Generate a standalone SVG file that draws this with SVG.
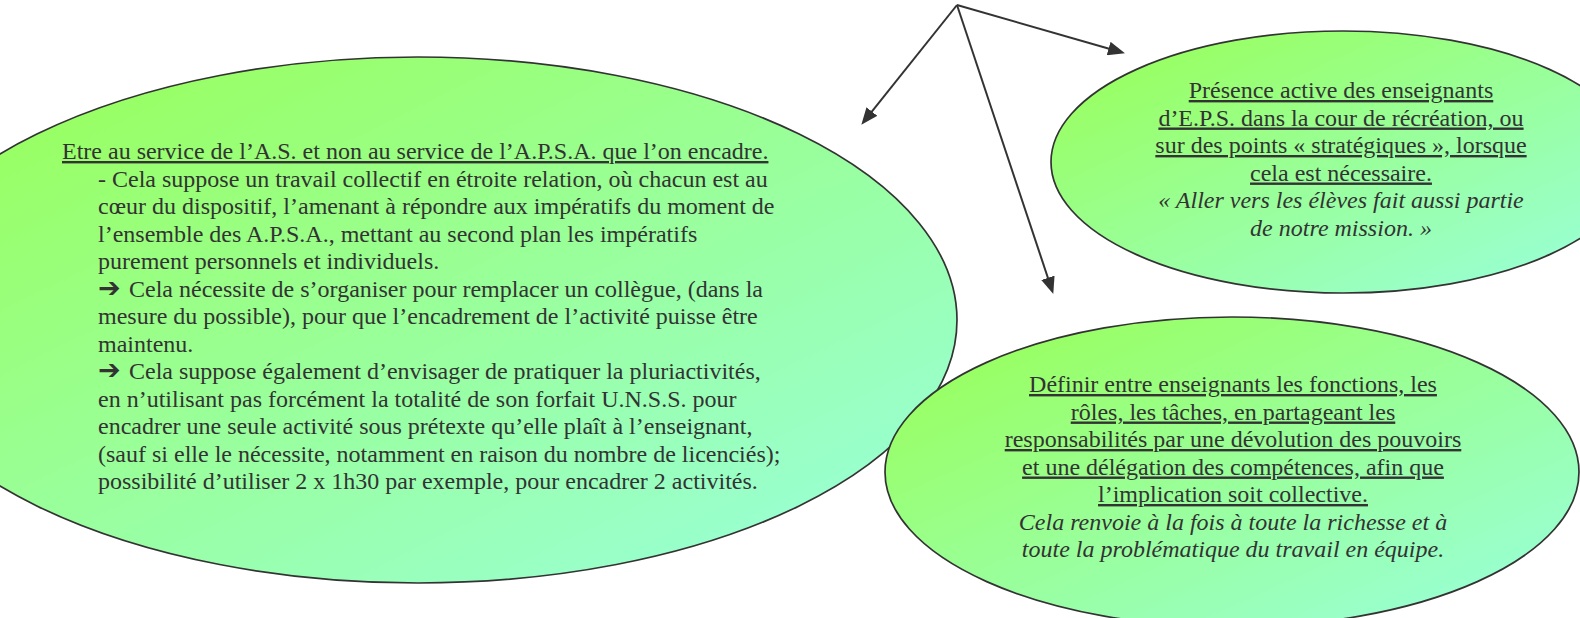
<svg xmlns="http://www.w3.org/2000/svg" width="1580" height="618" viewBox="0 0 1580 618">
<style>
.bub{stroke:#333333;stroke-width:1.7}
.t{font-family:"Liberation Serif","Times New Roman",serif;font-size:24px;fill:#333333}
.u{text-decoration:underline}
.i{font-style:italic}
.c{text-anchor:middle}
.ar{font-family:"DejaVu Sans",sans-serif;font-size:27px;font-weight:bold}
.arr{stroke:#333333;stroke-width:2;fill:none;marker-end:url(#ah)}
</style>
<defs>
<linearGradient id="g" x1="0" y1="0" x2="1" y2="1">
<stop offset="0.15" stop-color="#99FF66"/>
<stop offset="0.85" stop-color="#99FFCC"/>
</linearGradient>
<marker id="ah" markerUnits="userSpaceOnUse" markerWidth="18" markerHeight="14" refX="6" refY="7" orient="auto">
<path d="M0,0 L17,7 L0,14 z" fill="#333333"/>
</marker>
</defs>
<g id="node-left">
<ellipse class="bub" cx="418" cy="320" rx="539" ry="263" fill="url(#g)"/>
<text class="t u" x="62" y="159">Etre au service de l’A.S. et non au service de l’A.P.S.A. que l’on encadre.</text>
<text class="t" x="98" y="186.5">- Cela suppose un travail collectif en étroite relation, où chacun est au</text>
<text class="t" x="98" y="214">cœur du dispositif, l’amenant à répondre aux impératifs du moment de</text>
<text class="t" x="98" y="241.5">l’ensemble des A.P.S.A., mettant au second plan les impératifs</text>
<text class="t" x="98" y="269">purement personnels et individuels.</text>
<text class="t" x="98" y="296.5"><tspan class="ar">➔</tspan><tspan x="129">Cela nécessite de s’organiser pour remplacer un collègue, (dans la</tspan></text>
<text class="t" x="98" y="324">mesure du possible), pour que l’encadrement de l’activité puisse être</text>
<text class="t" x="98" y="351.5">maintenu.</text>
<text class="t" x="98" y="379"><tspan class="ar">➔</tspan><tspan x="129">Cela suppose également d’envisager de pratiquer la pluriactivités,</tspan></text>
<text class="t" x="98" y="406.5">en n’utilisant pas forcément la totalité de son forfait U.N.S.S. pour</text>
<text class="t" x="98" y="434">encadrer une seule activité sous prétexte qu’elle plaît à l’enseignant,</text>
<text class="t" x="98" y="461.5">(sauf si elle le nécessite, notamment en raison du nombre de licenciés);</text>
<text class="t" x="98" y="489">possibilité d’utiliser 2 x 1h30 par exemple, pour encadrer 2 activités.</text>
</g>
<g id="node-topright">
<ellipse class="bub" cx="1343" cy="162" rx="292" ry="131" fill="url(#g)"/>
<text class="t u c" x="1341" y="98">Présence active des enseignants</text>
<text class="t u c" x="1341" y="125.5">d’E.P.S. dans la cour de récréation, ou</text>
<text class="t u c" x="1341" y="153">sur des points « stratégiques », lorsque</text>
<text class="t u c" x="1341" y="180.5">cela est nécessaire.</text>
<text class="t i c" x="1341" y="208">« Aller vers les élèves fait aussi partie</text>
<text class="t i c" x="1341" y="235.5">de notre mission. »</text>
</g>
<g id="node-bottomright">
<ellipse class="bub" cx="1232" cy="472" rx="347" ry="155" fill="url(#g)"/>
<text class="t u c" x="1233" y="392">Définir entre enseignants les fonctions, les</text>
<text class="t u c" x="1233" y="419.5">rôles, les tâches, en partageant les</text>
<text class="t u c" x="1233" y="447">responsabilités par une dévolution des pouvoirs</text>
<text class="t u c" x="1233" y="474.5">et une délégation des compétences, afin que</text>
<text class="t u c" x="1233" y="502">l’implication soit collective.</text>
<text class="t i c" x="1233" y="529.5">Cela renvoie à la fois à toute la richesse et à</text>
<text class="t i c" x="1233" y="557">toute la problématique du travail en équipe.</text>
</g>
<g id="connectors">
<line class="arr" x1="957" y1="5" x2="868.2" y2="116.2"/>
<line class="arr" x1="957" y1="5" x2="1114.4" y2="50.2"/>
<line class="arr" x1="957" y1="5" x2="1049.8" y2="283.5"/>
</g>
</svg>
